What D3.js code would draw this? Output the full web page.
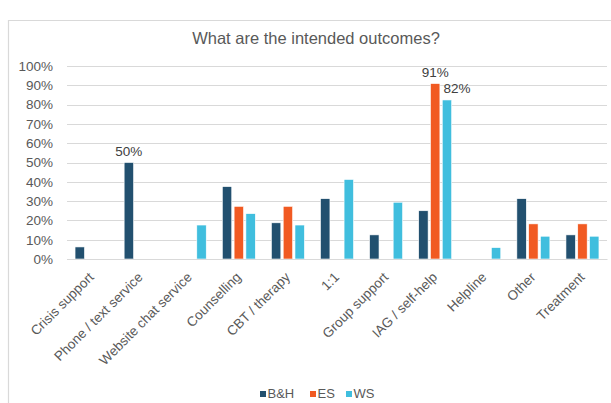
<!DOCTYPE html>
<html><head><meta charset="utf-8">
<script src="https://cdn.jsdelivr.net/npm/d3@7"></script>
<style>body{margin:0;background:#fff}svg{display:block;font-family:"Liberation Sans",Arial,sans-serif}</style>
</head><body>
<svg id="c" width="611" height="403"></svg>
<script>
const categories = ["Crisis support","Phone / text service","Website chat service","Counselling","CBT / therapy","1:1","Group support","IAG / self-help","Helpline","Other","Treatment"];
const seriesNames = ["B&H","ES","WS"];
const bhValues = [6.25,50,0,37.5,18.75,31.25,12.5,25,0,31.25,12.5];
const esValues = [0,0,0,27.3,27.3,0,0,90.9,0,18.2,18.2];
const wsValues = [0,0,17.6,23.5,17.6,41.2,29.4,82.4,5.9,11.8,11.8];
const yTicks = [0,10,20,30,40,50,60,70,80,90,100];
const colors = ["#22506f","#f15a22","#40bede"];
const labelled = [["B&H","Phone / text service","50%",0],["ES","IAG / self-help","91%",0],["WS","IAG / self-help","82%",10]];

const svg = d3.select("#c");
// chart border
svg.append("path").attr("d","M8.5,403 V20.5 H611").attr("fill","none").attr("stroke","#d9d9d9").attr("stroke-width",1.2);

svg.append("text").attr("x",316).attr("y",44).attr("text-anchor","middle")
  .attr("font-size",16.5).attr("fill","#595959").text("What are the intended outcomes?");

const x = d3.scaleBand().domain(categories).range([67,607]);
const y = d3.scaleLinear().domain([0,100]).range([259,66]);
const xs = d3.scaleBand().domain(seriesNames).range([x.bandwidth()/2-16.5, x.bandwidth()/2+16.5]).paddingInner(0.2);

// gridlines
svg.append("g").selectAll("line").data(yTicks).join("line")
  .attr("x1",67).attr("x2",607).attr("y1",d=>Math.round(y(d))+0.5).attr("y2",d=>Math.round(y(d))+0.5)
  .attr("stroke","#d9d9d9").attr("stroke-width",1);

const yAxis = svg.append("g").attr("transform","translate(53,0)")
  .call(d3.axisLeft(y).tickValues(yTicks).tickFormat(d=>d+"%").tickSize(0).tickPadding(0));
yAxis.select(".domain").remove();
yAxis.selectAll("text").attr("font-size",13.5).attr("fill","#595959").attr("font-family","Liberation Sans, Arial, sans-serif");

const data = seriesNames.map((s,i)=>({name:s,values:[bhValues,esValues,wsValues][i]}));
const g = svg.append("g");
data.forEach((s,i)=>{
  g.append("g").selectAll("rect").data(s.values.map((v,j)=>({c:categories[j],v})).filter(d=>d.v>0)).join("rect")
    .attr("x",d=>x(d.c)+xs(s.name)).attr("width",xs.bandwidth())
    .attr("y",d=>y(d.v)).attr("height",d=>y(0)-y(d.v))
    .attr("fill",colors[i]).attr("stroke","#ffffff").attr("stroke-width",0.6);
});

const xAxis = svg.append("g").attr("transform","translate(0,259)")
  .call(d3.axisBottom(x).tickSize(0).tickPadding(0));
xAxis.select(".domain").attr("stroke","#d9d9d9");
xAxis.selectAll("text").attr("font-size",13.5).attr("fill","#595959").attr("font-family","Liberation Sans, Arial, sans-serif")
  .attr("text-anchor","end").attr("dy",0).attr("transform","translate(3,19) rotate(-45)");

// data labels
labelled.forEach(([s,c,t,dx])=>{
  const i = seriesNames.indexOf(s);
  const v = data[i].values[categories.indexOf(c)];
  svg.append("text").attr("x",x(c)+xs(s)+xs.bandwidth()/2+dx).attr("y",y(v)-7)
    .attr("text-anchor","middle").attr("font-size",13.5).attr("fill","#404040").text(t);
});

// legend
const lg = svg.append("g").attr("transform","translate(260,391)");
const lx = [0,50,86];
seriesNames.forEach((s,i)=>{
  lg.append("rect").attr("x",lx[i]).attr("y",0).attr("width",6).attr("height",6).attr("fill",colors[i]);
  lg.append("text").attr("x",lx[i]+7.5).attr("y",6.5).attr("font-size",13).attr("fill","#595959").text(s);
});
</script>
</body></html>
